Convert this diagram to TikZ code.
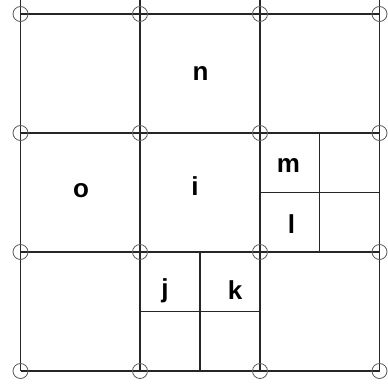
\documentclass[tikz,border=0pt]{standalone}
\usepackage{fontspec}
\setmainfont{Liberation Sans}
\usepackage{tikz}
\usetikzlibrary{calc}

\begin{document}
\begin{tikzpicture}[x=1pt,y=-1pt,line width=1.1pt,draw=black!85,
  font=\fontsize{26}{26}\selectfont\bfseries]
\tikzset{vertex/.style={circle,draw=black!65,line width=0.8pt,minimum size=15pt,inner sep=0pt}}
\tikzset{lbl/.style={anchor=base,inner sep=0pt}}
\useasboundingbox (0,0) rectangle (388,383);

% grid points
\foreach \c/\x in {0/20.5,1/140,2/260,3/379.5}{
  \foreach \r/\y in {0/14,1/133,2/252,3/371}{
    \coordinate (g\c\r) at (\x,\y);
  }
  \coordinate (t\c) at (\x,0);
}

% main grid
\foreach \c in {0,...,3} \draw (t\c) -- (g\c3);
\foreach \r in {0,...,3} \draw (g0\r) -- (g3\r);

% refined cells
\coordinate (ma) at ($(g21)!.5!(g31)$);
\coordinate (mb) at ($(g22)!.5!(g32)$);
\coordinate (mc) at ($(g21)!.5!(g22)$);
\coordinate (md) at ($(g31)!.5!(g32)$);
\draw (ma) -- (mb);
\draw (mc) -- (md);
\coordinate (ja) at ($(g12)!.5!(g22)$);
\coordinate (jb) at ($(g13)!.5!(g23)$);
\coordinate (jc) at ($(g12)!.5!(g13)$);
\coordinate (jd) at ($(g22)!.5!(g23)$);
\draw (ja) -- (jb);
\draw (jc) -- (jd);

% vertices
\foreach \c in {0,...,3}
  \foreach \r in {0,...,3}
    \node[vertex] (v\c\r) at (g\c\r) {};

% labels
\node[lbl] (n) at (200.5,80) {n};
\node[lbl] (o) at (81,197) {o};
\node[lbl] (i) at (195,195) {i};
\node[lbl] (m) at (288.5,172.5) {m};
\node[lbl] (l) at (291.5,233) {l};
\node[lbl] (j) at (165,297.5) {j};
\node[lbl] (k) at (235,299) {k};

\end{tikzpicture}
\end{document}
